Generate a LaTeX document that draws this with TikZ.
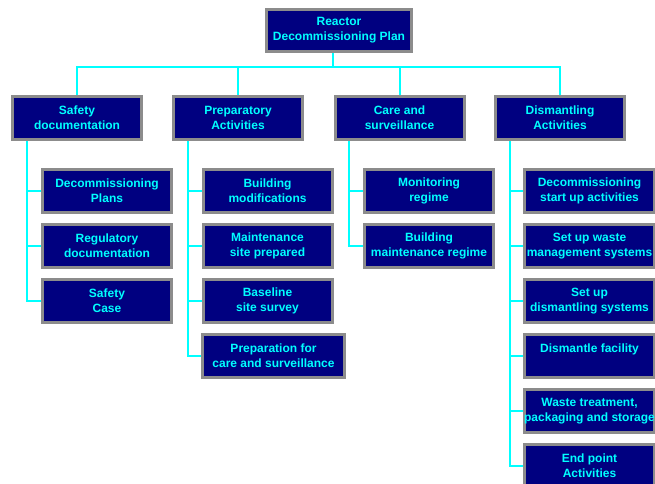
\documentclass[tikz,border=0pt]{standalone}
\usepackage{fontspec}
\setmainfont{Liberation Sans}
\usetikzlibrary{backgrounds}
\definecolor{navybox}{HTML}{000080}
\definecolor{boxgray}{HTML}{8C8C8C}
\definecolor{cyantext}{HTML}{00FFFF}
\tikzset{
  box/.style={draw=boxgray, line width=3pt, fill=navybox, text=cyantext,
    font=\fontsize{12}{15}\selectfont\bfseries, align=center, inner sep=0pt,
    minimum width=129pt, minimum height=43pt},
  conn/.style={draw=cyantext, line width=2pt}
}
\begin{document}
\begin{tikzpicture}[x=1pt,y=-1pt]
\useasboundingbox (0,0) rectangle (655,483);
% root
\node[box, minimum width=145pt, minimum height=42pt] (r) at (339,30.5) {Reactor\\Decommissioning Plan};
% level 1
\node[box] (a1) at (77,118) {Safety\\documentation};
\node[box] (a2) at (238,118) {Preparatory\\Activities};
\node[box] (a3) at (399.5,118) {Care and\\surveillance};
\node[box] (a4) at (560,118) {Dismantling\\Activities};
% safety children
\node[box] (c11) at (107,191) {Decommissioning\\Plans};
\node[box] (c12) at (107,246) {Regulatory\\documentation};
\node[box] (c13) at (107,301) {Safety\\Case};
% preparatory children
\node[box] (c21) at (267.5,191) {Building\\modifications};
\node[box] (c22) at (267.5,246) {Maintenance\\site prepared};
\node[box] (c23) at (267.5,301) {Baseline\\site survey};
\node[box, minimum width=142pt] (c24) at (273.5,356) {Preparation for\\care and surveillance};
% care children
\node[box] (c31) at (429,191) {Monitoring\\regime};
\node[box] (c32) at (429,246) {Building\\maintenance regime};
% dismantling children
\node[box, minimum width=130pt] (c41) at (589.5,191) {Decommissioning\\start up activities};
\node[box, minimum width=130pt] (c42) at (589.5,246) {Set up waste\\management systems};
\node[box, minimum width=130pt] (c43) at (589.5,301) {Set up\\dismantling systems};
\node[box, minimum width=130pt] (c44) at (589.5,356) {Dismantle facility\\\phantom{x}};
\node[box, minimum width=130pt] (c45) at (589.5,411) {Waste treatment,\\packaging and storage};
\node[box, minimum width=130pt] (c46) at (589.5,466) {End point\\Activities};
% connectors
\coordinate (bus) at (333,67);
\coordinate (t1) at (27,0);
\coordinate (t2) at (188,0);
\coordinate (t3) at (349,0);
\coordinate (t4) at (510,0);
\begin{scope}[on background layer]
\draw[conn] (r.south -| bus) -- (bus);
\draw[conn] (a1.north) |- (bus);
\draw[conn] (a2.north) |- (bus);
\draw[conn] (a3.north) |- (bus);
\draw[conn] (a4.north) |- (bus);
\draw[conn] (a1.south -| t1) |- (c11.west);
\draw[conn] (a1.south -| t1) |- (c12.west);
\draw[conn] (a1.south -| t1) |- (c13.west);
\draw[conn] (a2.south -| t2) |- (c21.west);
\draw[conn] (a2.south -| t2) |- (c22.west);
\draw[conn] (a2.south -| t2) |- (c23.west);
\draw[conn] (a2.south -| t2) |- (c24.west);
\draw[conn] (a3.south -| t3) |- (c31.west);
\draw[conn] (a3.south -| t3) |- (c32.west);
\draw[conn] (a4.south -| t4) |- (c41.west);
\draw[conn] (a4.south -| t4) |- (c42.west);
\draw[conn] (a4.south -| t4) |- (c43.west);
\draw[conn] (a4.south -| t4) |- (c44.west);
\draw[conn] (a4.south -| t4) |- (c45.west);
\draw[conn] (a4.south -| t4) |- (c46.west);
\end{scope}
\end{tikzpicture}
\end{document}
